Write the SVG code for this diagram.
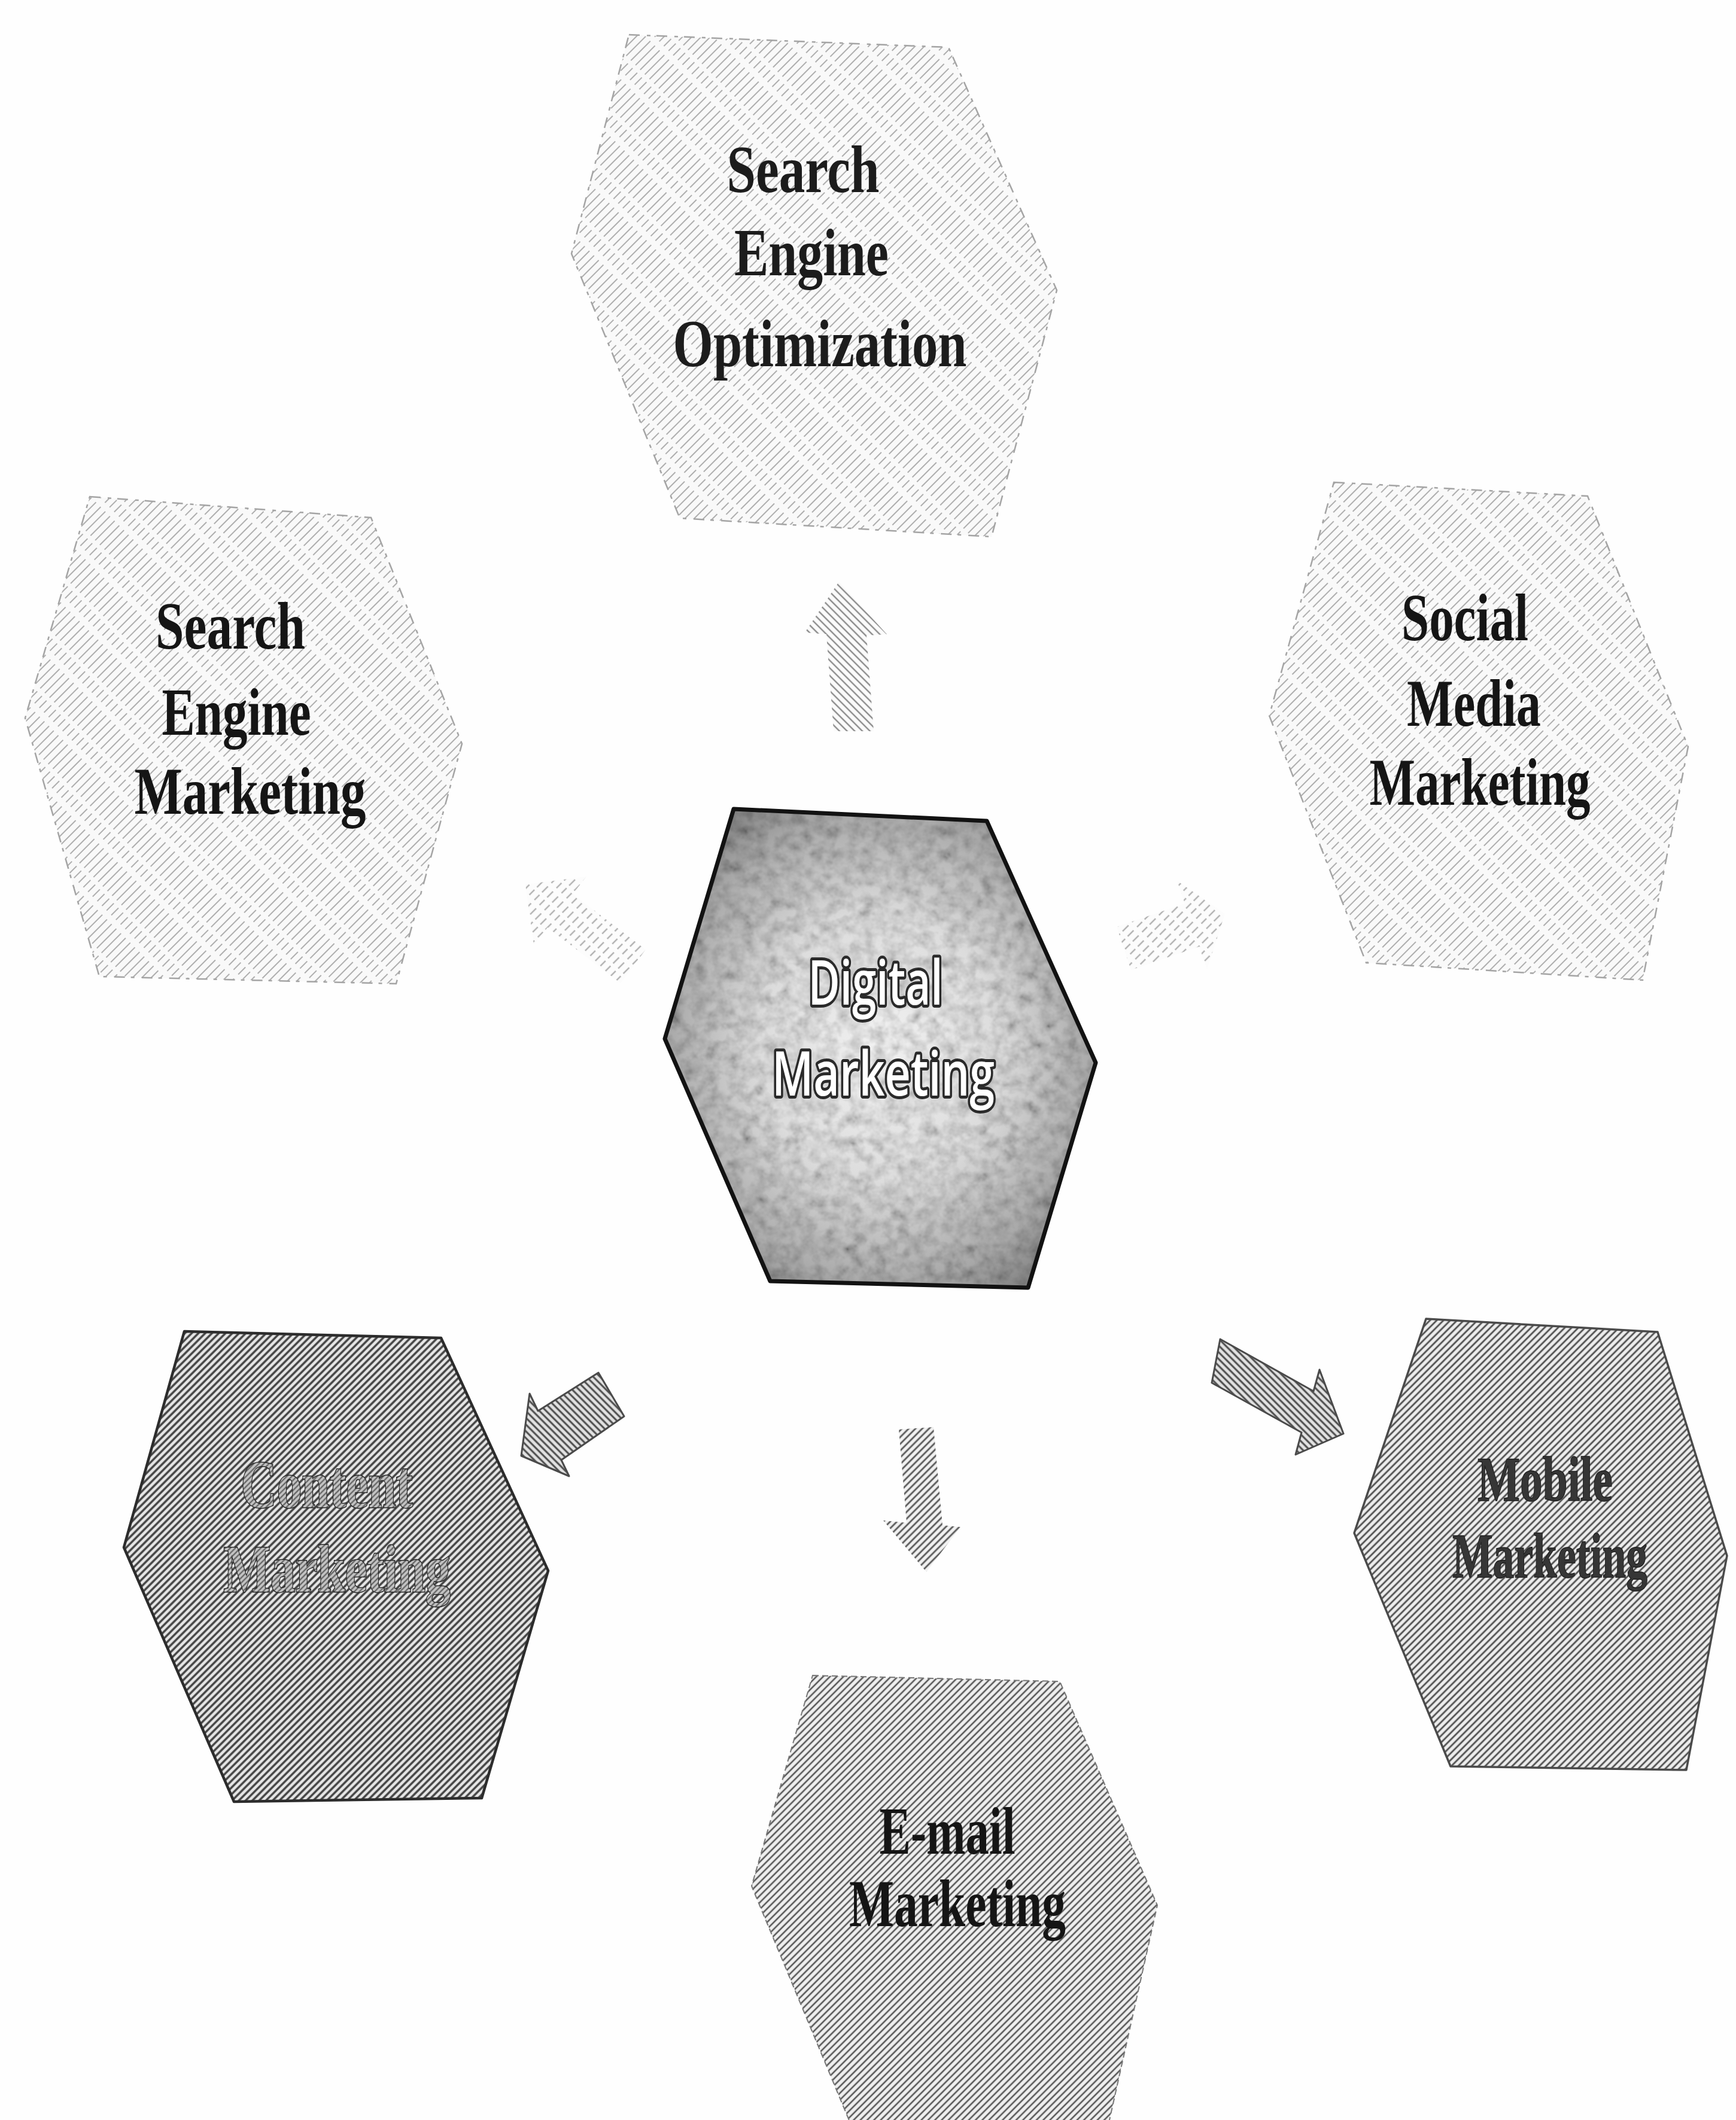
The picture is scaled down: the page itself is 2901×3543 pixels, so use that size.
<svg xmlns="http://www.w3.org/2000/svg" width="2901" height="3543" viewBox="0 0 2901 3543">
  <style>
    .lbl { font-family: "Liberation Serif", "Times New Roman", serif; font-weight: bold; font-size: 112px; fill: #151515; text-anchor: middle; }
    .lbl-faint { fill: #1c1c1c; }
    .lbl-hatched { fill: url(#hatchText); stroke: #262626; stroke-width: 3; paint-order: stroke; }
    .lbl-mobile { font-size: 106px; fill: #363636; stroke: #1e1e1e; stroke-width: 1.5; }
    .core-lbl { font-family: "Open Sans", "DejaVu Sans", sans-serif; font-weight: 600; font-size: 104px; fill: #ffffff; stroke: #2a2a2a; stroke-width: 10; stroke-linejoin: round; paint-order: stroke; text-anchor: middle; }
    .hex-faint { fill: url(#hatchFaint); stroke: #a4a4a4; stroke-width: 2.5; stroke-dasharray: 18 12 6 10; }
    .hex-dark { fill: url(#hatchDark); stroke: #2c2c2c; stroke-width: 4.5; stroke-linejoin: round; }
    .hex-mid { fill: url(#hatchMid); stroke: #4a4a4a; stroke-width: 3.5; stroke-linejoin: round; }
    .hex-mail { fill: url(#hatchMail); stroke: #777777; stroke-width: 2; stroke-dasharray: 10 6; }
    .arrow-light { fill: url(#hatchArrowLight); }
    .arrow-faint { fill: url(#hatchArrowFaint); }
    .arrow-mid { fill: url(#hatchArrowMid); }
    .arrow-dark { fill: url(#hatchArrowDark); stroke: #4a4a4a; stroke-width: 3; stroke-linejoin: round; }
  </style>
  <defs>
    <!-- light, broken hatching for the outer soft nodes -->
    <pattern id="hatchFaint" width="11" height="80" patternUnits="userSpaceOnUse" patternTransform="rotate(45)">
      <rect width="11" height="80" fill="#f9f9f9"/>
      <line x1="3" y1="0" x2="3" y2="80" stroke="#9c9c9c" stroke-width="1.6" stroke-dasharray="46 7 17 10"/>
    </pattern>
    <!-- dense hatching -->
    <pattern id="hatchDark" width="8" height="8" patternUnits="userSpaceOnUse" patternTransform="rotate(45)">
      <rect width="8" height="8" fill="#e6e6e6"/>
      <line x1="2" y1="0" x2="2" y2="8" stroke="#404040" stroke-width="3.4"/>
    </pattern>
    <pattern id="hatchMid" width="8" height="8" patternUnits="userSpaceOnUse" patternTransform="rotate(45)">
      <rect width="8" height="8" fill="#eeeeee"/>
      <line x1="2" y1="0" x2="2" y2="8" stroke="#4e4e4e" stroke-width="2.8"/>
    </pattern>
    <pattern id="hatchMail" width="8" height="8" patternUnits="userSpaceOnUse" patternTransform="rotate(45)">
      <rect width="8" height="8" fill="#f0f0f0"/>
      <line x1="2" y1="0" x2="2" y2="8" stroke="#565656" stroke-width="2.6"/>
    </pattern>
    <pattern id="hatchText" width="6" height="6" patternUnits="userSpaceOnUse" patternTransform="rotate(45)">
      <rect width="6" height="6" fill="#c4c4c4"/>
      <line x1="1.5" y1="0" x2="1.5" y2="6" stroke="#555555" stroke-width="2"/>
    </pattern>
    <!-- connector hatching -->
    <pattern id="hatchArrowLight" width="9" height="9" patternUnits="userSpaceOnUse" patternTransform="rotate(-45)">
      <rect width="9" height="9" fill="#fbfbfb"/>
      <line x1="2" y1="0" x2="2" y2="9" stroke="#8a8a8a" stroke-width="2.4"/>
    </pattern>
    <pattern id="hatchArrowFaint" width="12" height="40" patternUnits="userSpaceOnUse" patternTransform="rotate(45)">
      <rect width="12" height="40" fill="#fcfcfc"/>
      <line x1="3" y1="0" x2="3" y2="40" stroke="#b0b0b0" stroke-width="2.4" stroke-dasharray="14 6 12 8"/>
    </pattern>
    <pattern id="hatchArrowMid" width="8" height="8" patternUnits="userSpaceOnUse" patternTransform="rotate(45)">
      <rect width="8" height="8" fill="#f2f2f2"/>
      <line x1="2" y1="0" x2="2" y2="8" stroke="#585858" stroke-width="2.8"/>
    </pattern>
    <pattern id="hatchArrowDark" width="8" height="8" patternUnits="userSpaceOnUse" patternTransform="rotate(-45)">
      <rect width="8" height="8" fill="#e2e2e2"/>
      <line x1="2" y1="0" x2="2" y2="8" stroke="#4a4a4a" stroke-width="3"/>
    </pattern>
    <!-- mottled core fill -->
    <radialGradient id="coreShade" cx="0.5" cy="0.5" r="0.62">
      <stop offset="0" stop-color="#f2f2f2"/>
      <stop offset="0.45" stop-color="#dcdcdc"/>
      <stop offset="0.8" stop-color="#a8a8a8"/>
      <stop offset="1" stop-color="#7a7a7a"/>
    </radialGradient>
    <filter id="grain" x="0" y="0" width="1" height="1">
      <feTurbulence type="fractalNoise" baseFrequency="0.05" numOctaves="3" seed="4" result="n"/>
      <feColorMatrix in="n" type="matrix" values="0.33 0.33 0.33 0 0  0.33 0.33 0.33 0 0  0.33 0.33 0.33 0 0  0 0 0 0 1"/>
      <feComponentTransfer>
        <feFuncR type="linear" slope="2.4" intercept="-0.45"/>
        <feFuncG type="linear" slope="2.4" intercept="-0.45"/>
        <feFuncB type="linear" slope="2.4" intercept="-0.45"/>
      </feComponentTransfer>
    </filter>
    <clipPath id="coreClip">
      <polygon points="1226,1352 1649,1372 1831,1776 1718,2152 1287,2141 1111,1736"/>
    </clipPath>
  </defs>

  <rect width="2901" height="3543" fill="#fefefe"/>

  <!-- block arrows from the core to each channel -->
  <g id="connectors">
    <polygon id="to-seo" class="arrow-light" points="1402,972 1482,1060 1448,1062 1460,1222 1393,1222 1381,1060 1345,1057"/>
    <polygon id="to-sem" class="arrow-faint" points="1079,1587 957,1494 980,1465 878,1478 892,1579 915,1550 1037,1643"/>
    <polygon id="to-smm" class="arrow-faint" points="1866,1549 1980,1510 1967,1472 2047,1527 2017,1620 2004,1582 1890,1621"/>
    <polygon id="to-content" class="arrow-dark" points="1000,2294 899,2358 885,2329 871,2433 951,2467 938,2440 1043,2367"/>
    <polygon id="to-email" class="arrow-mid" points="1502,2389 1560,2385 1575,2549 1605,2552 1548,2627 1476,2541 1515,2545"/>
    <polygon id="to-mobile" class="arrow-dark" points="2039,2238 2195,2325 2205,2289 2245,2396 2165,2431 2175,2394 2025,2311"/>
  </g>

  <g id="node-seo">
    <polygon class="hex-faint" points="1051,58 1585,79 1766,485 1657,897 1136,866 955,424"/>
    <text class="lbl lbl-faint" x="1342" y="321" textLength="255" lengthAdjust="spacingAndGlyphs">Search</text>
    <text class="lbl lbl-faint" x="1356" y="460" textLength="258" lengthAdjust="spacingAndGlyphs">Engine</text>
    <text class="lbl lbl-faint" x="1370" y="612" textLength="491" lengthAdjust="spacingAndGlyphs">Optimization</text>
  </g>

  <g id="node-sem">
    <polygon class="hex-faint" points="150,830 620,865 772,1243 662,1644 166,1632 42,1200"/>
    <text class="lbl" x="385" y="1084" textLength="250" lengthAdjust="spacingAndGlyphs">Search</text>
    <text class="lbl" x="395" y="1228" textLength="249" lengthAdjust="spacingAndGlyphs">Engine</text>
    <text class="lbl" x="418" y="1360" textLength="387" lengthAdjust="spacingAndGlyphs">Marketing</text>
  </g>

  <g id="node-smm">
    <polygon class="hex-faint" points="2229,806 2653,829 2821,1248 2745,1638 2283,1609 2121,1196"/>
    <text class="lbl" x="2448" y="1070" textLength="212" lengthAdjust="spacingAndGlyphs">Social</text>
    <text class="lbl" x="2463" y="1213" textLength="224" lengthAdjust="spacingAndGlyphs">Media</text>
    <text class="lbl" x="2473" y="1345" textLength="369" lengthAdjust="spacingAndGlyphs">Marketing</text>
  </g>

  <g id="node-core">
    <polygon points="1226,1352 1649,1372 1831,1776 1718,2152 1287,2141 1111,1736" fill="url(#coreShade)"/>
    <rect x="1100" y="1340" width="740" height="820" filter="url(#grain)" clip-path="url(#coreClip)" opacity="0.5" style="mix-blend-mode:multiply"/>
    <polygon points="1226,1352 1649,1372 1831,1776 1718,2152 1287,2141 1111,1736" fill="none" stroke="#121212" stroke-width="7" stroke-linejoin="round"/>
    <text class="core-lbl" x="1463" y="1679" textLength="225" lengthAdjust="spacingAndGlyphs">Digital</text>
    <text class="core-lbl" x="1476" y="1831" textLength="372" lengthAdjust="spacingAndGlyphs">Marketing</text>
  </g>

  <g id="node-content">
    <polygon class="hex-dark" points="308,2225 737,2236 916,2625 805,3005 391,3011 207,2586"/>
    <text class="lbl lbl-hatched" x="546" y="2519" textLength="287" lengthAdjust="spacingAndGlyphs">Content</text>
    <text class="lbl lbl-hatched" x="563" y="2660" textLength="379" lengthAdjust="spacingAndGlyphs">Marketing</text>
  </g>

  <g id="node-mobile">
    <polygon class="hex-mid" points="2383,2204 2770,2226 2886,2600 2818,2958 2424,2952 2263,2562"/>
    <text class="lbl lbl-mobile" x="2582" y="2508" textLength="226" lengthAdjust="spacingAndGlyphs">Mobile</text>
    <text class="lbl lbl-mobile" x="2590" y="2636" textLength="326" lengthAdjust="spacingAndGlyphs">Marketing</text>
  </g>

  <g id="node-email">
    <polygon class="hex-mail" points="1358,2800 1771,2810 1934,3184 1848,3570 1430,3570 1256,3152"/>
    <text class="lbl" x="1583" y="3098" textLength="227" lengthAdjust="spacingAndGlyphs">E-mail</text>
    <text class="lbl" x="1600" y="3219" textLength="362" lengthAdjust="spacingAndGlyphs">Marketing</text>
  </g>
</svg>
